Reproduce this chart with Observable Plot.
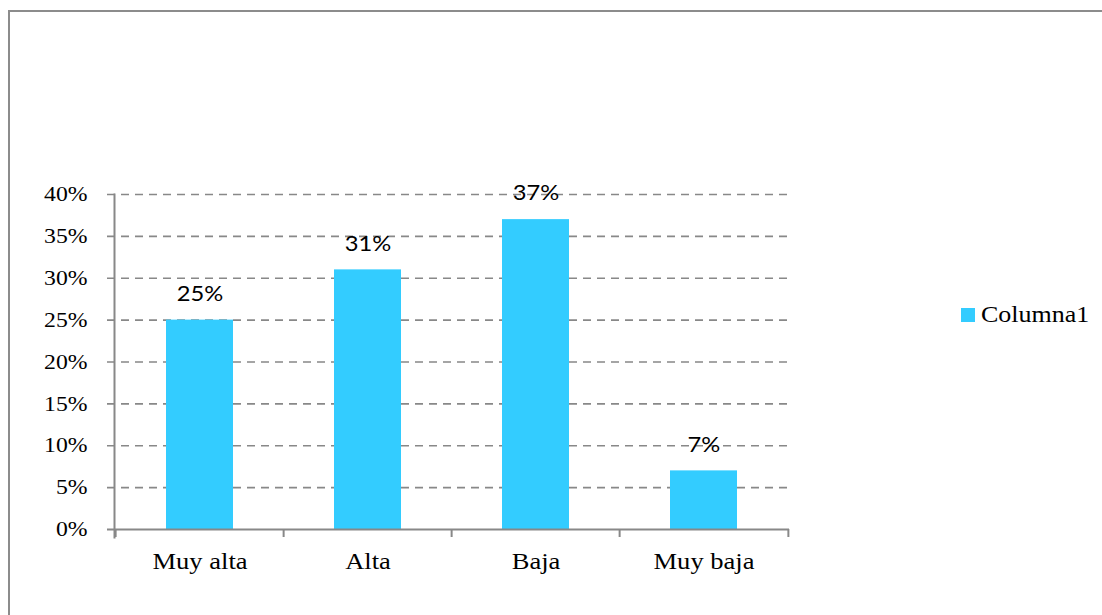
<!DOCTYPE html>
<html>
<head>
<meta charset="utf-8">
<script src="https://cdn.jsdelivr.net/npm/d3@7"></script>
<script src="https://cdn.jsdelivr.net/npm/@observablehq/plot@0.6"></script>
<style>
  html, body { margin: 0; padding: 0; background: #fff; }
  #wrap { position: relative; width: 1102px; height: 615px; overflow: hidden; background: #fff; }
  #border { position: absolute; left: 8px; top: 10px; width: 1200px; height: 700px; border: 2px solid #8c8c8c; box-sizing: border-box; }
  #chart { position: absolute; left: 0; top: 0; }
  #legend { position: absolute; left: 961px; top: 302px; display: flex; align-items: center; font-family: "Liberation Serif", "Times New Roman", serif; font-size: 23px; color: #000; }
  #legend .sw { width: 14px; height: 14px; margin-right: 6px; }
  #legend span { display: inline-block; transform: scaleX(1.13); transform-origin: left center; }
</style>
</head>
<body>
<div id="wrap">
  <div id="border"></div>
  <div id="chart"></div>
  <div id="legend"></div>
</div>
<script>
const categories = ["Muy alta", "Alta", "Baja", "Muy baja"];
const values = [0.25, 0.31, 0.37, 0.07];
const valueLabels = ["25%", "31%", "37%", "7%"];
const yTicks = [0, 0.05, 0.10, 0.15, 0.20, 0.25, 0.30, 0.35, 0.40];
const seriesName = "Columna1";
const barColor = "#33CCFF";
const lineColor = "#888888";

const data = categories.map((c, i) => ({category: c, value: values[i], label: valueLabels[i]}));

const W = 1102, H = 615, ML = 114, MR = 313, MT = 194, MB = 86;
const step = (W - ML - MR) / categories.length;
const serif = "Liberation Serif";

const chart = Plot.plot({
  width: W, height: H,
  marginTop: MT, marginBottom: MB, marginLeft: ML, marginRight: MR,
  style: {background: "transparent", overflow: "visible"},
  x: {domain: categories, paddingInner: 0.6, paddingOuter: 0.3},
  y: {domain: [0, 0.4]},
  marks: [
    Plot.ruleY(yTicks.filter(t => t > 0), {y: d => d, stroke: lineColor, strokeWidth: 1.6, strokeDasharray: "8,6", insetLeft: -7}),
    Plot.barY(data, {x: "category", y: "value", fill: barColor}),
    Plot.frame({anchor: "left", stroke: lineColor, strokeWidth: 2, insetBottom: -8}),
    Plot.ruleY([0], {stroke: lineColor, strokeWidth: 2, insetLeft: -7}),
    Plot.ruleX(categories, {x: d => d, y1: 0, y2: 0, dx: -step / 2, insetBottom: -8, stroke: lineColor, strokeWidth: 2}),
    Plot.ruleX(categories.slice(-1), {x: d => d, y1: 0, y2: 0, dx: step / 2, insetBottom: -8, stroke: lineColor, strokeWidth: 2}),
    Plot.text(data, {x: "category", y: "value", text: "label", dy: -26, lineAnchor: "middle", fill: "#000", fontFamily: "Lato", fontSize: 21}),
    Plot.axisY({ticks: yTicks, tickFormat: d3.format(".0%"), tickSize: 0, tickPadding: 27, fill: "#000", label: null, fontFamily: serif, fontSize: 21}),
    Plot.axisX({tickSize: 0, tickPadding: 23, fill: "#000", label: null, fontFamily: serif, fontSize: 23.5})
  ]
});
document.getElementById("chart").appendChild(chart);

// Reference text is slightly stretched horizontally: scale each label about its anchor point
d3.select(chart)
  .selectAll('g[aria-label="y-axis tick label"] text, g[aria-label="x-axis tick label"] text, g[aria-label="text"] text')
  .each(function() {
    const t = this.getAttribute("transform") || "";
    this.setAttribute("transform", `${t} scale(1.13,1)`);
  });

const legend = document.getElementById("legend");
const sw = document.createElement("div");
sw.className = "sw";
sw.style.background = barColor;
const lt = document.createElement("span");
lt.textContent = seriesName;
legend.appendChild(sw);
legend.appendChild(lt);
</script>
</body>
</html>
